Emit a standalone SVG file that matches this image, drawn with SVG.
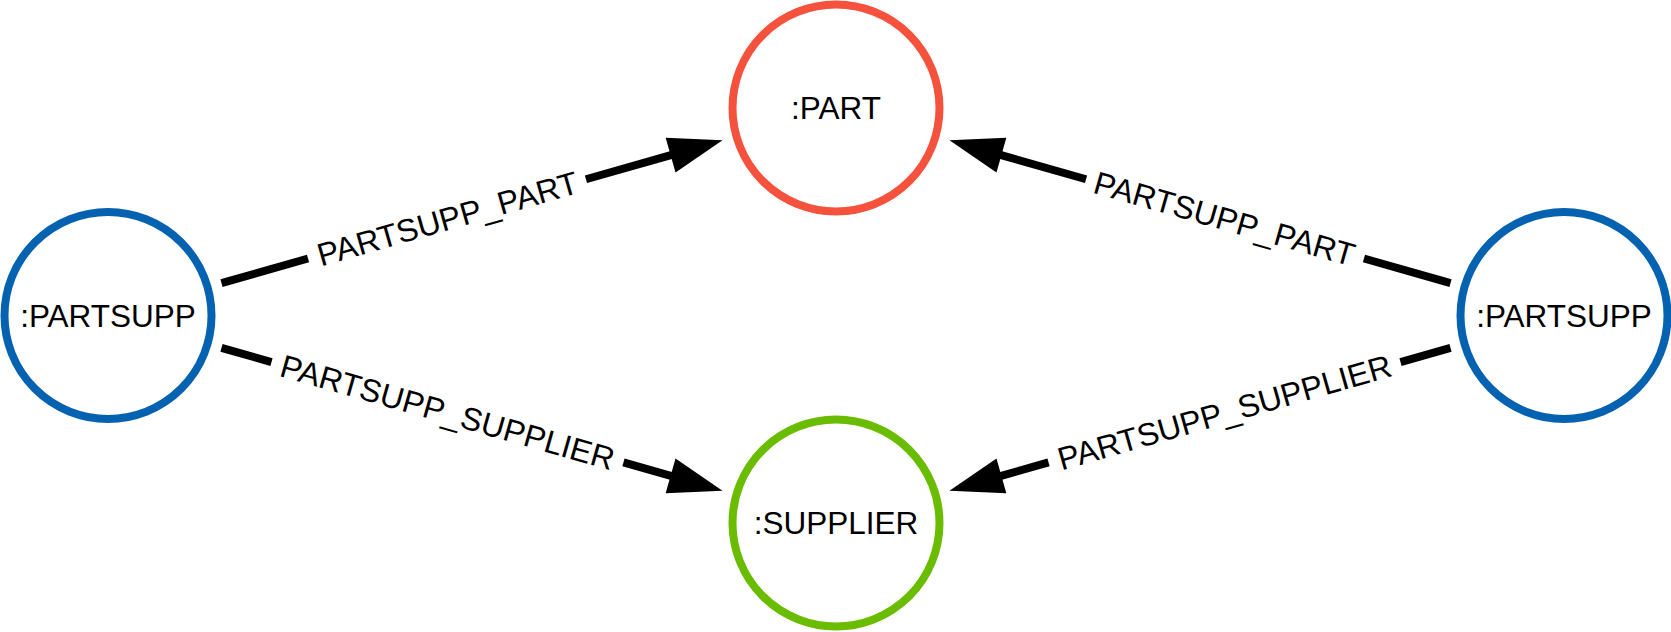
<svg xmlns="http://www.w3.org/2000/svg" width="1671" height="632" viewBox="0 0 1671 632">
  <style>
    .node { fill: #ffffff; stroke-width: 8; }
    .partsupp { stroke: #0562B0; }
    .part { stroke: #F4523D; }
    .supplier { stroke: #69BC00; }
    .ntext { font-family: "Liberation Sans", Arial, sans-serif; font-size: 31.5px; fill: #000000; text-anchor: middle; }
    .shaft { stroke: #000000; stroke-width: 8; fill: none; }
    .head { fill: #000000; }
    .etext { font-family: "Liberation Sans", Arial, sans-serif; font-size: 32px; fill: #000000; text-anchor: middle; }
  </style>
  <rect x="0" y="0" width="1671" height="632" fill="#ffffff"/>
  <g id="connectors">
    <g id="edge-l-part" transform="translate(108,315.5) rotate(-15.91)">
      <line class="shaft" x1="118" y1="0" x2="208" y2="0"/>
      <line class="shaft" x1="497" y1="0" x2="588" y2="0"/>
      <polygon class="head" points="639,0 585,-18 585,18"/>
    </g>
    <text class="etext" transform="translate(447.5,218.7) rotate(-15.91)" dy="0.35em">PARTSUPP_PART</text>
    <g id="edge-l-supplier" transform="translate(108,315.5) rotate(15.91)">
      <line class="shaft" x1="118" y1="0" x2="170" y2="0"/>
      <line class="shaft" x1="536" y1="0" x2="588" y2="0"/>
      <polygon class="head" points="639,0 585,-18 585,18"/>
    </g>
    <text class="etext" transform="translate(447.5,412.3) rotate(15.91)" dy="0.35em">PARTSUPP_SUPPLIER</text>
    <g id="edge-r-part" transform="translate(1564,315.5) rotate(195.91)">
      <line class="shaft" x1="118" y1="0" x2="208" y2="0"/>
      <line class="shaft" x1="497" y1="0" x2="588" y2="0"/>
      <polygon class="head" points="639,0 585,-18 585,18"/>
    </g>
    <text class="etext" transform="translate(1224.5,218.7) rotate(15.91)" dy="0.35em">PARTSUPP_PART</text>
    <g id="edge-r-supplier" transform="translate(1564,315.5) rotate(164.09)">
      <line class="shaft" x1="118" y1="0" x2="170" y2="0"/>
      <line class="shaft" x1="536" y1="0" x2="588" y2="0"/>
      <polygon class="head" points="639,0 585,-18 585,18"/>
    </g>
    <text class="etext" transform="translate(1224.5,412.3) rotate(-15.91)" dy="0.35em">PARTSUPP_SUPPLIER</text>
  </g>
  <g id="node-part">
    <circle class="node part" cx="836" cy="108" r="103.5"/>
    <text class="ntext" x="836" y="108" dy="0.35em">:PART</text>
  </g>
  <g id="node-supplier">
    <circle class="node supplier" cx="836" cy="523" r="103.5"/>
    <text class="ntext" x="836" y="523" dy="0.35em">:SUPPLIER</text>
  </g>
  <g id="node-partsupp-left">
    <circle class="node partsupp" cx="108" cy="315.5" r="103.5"/>
    <text class="ntext" x="108" y="315.5" dy="0.35em">:PARTSUPP</text>
  </g>
  <g id="node-partsupp-right">
    <circle class="node partsupp" cx="1564" cy="315.5" r="103.5"/>
    <text class="ntext" x="1564" y="315.5" dy="0.35em">:PARTSUPP</text>
  </g>
</svg>
